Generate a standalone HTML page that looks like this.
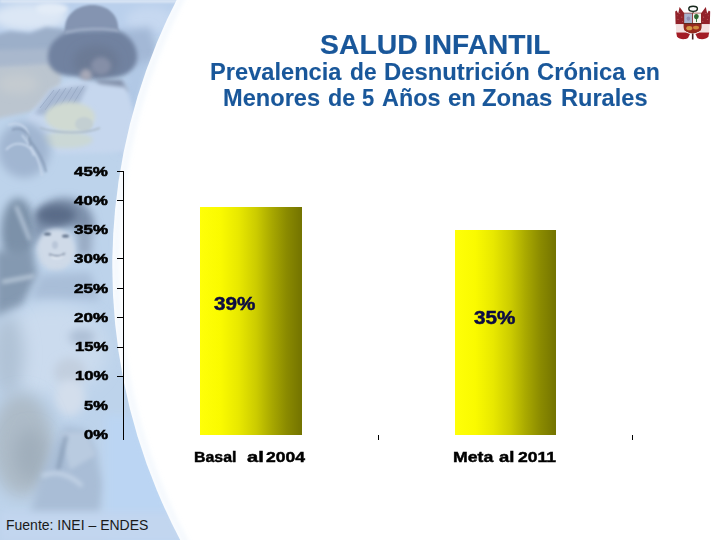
<!DOCTYPE html>
<html>
<head>
<meta charset="utf-8">
<title>Salud Infantil</title>
<style>
html,body{margin:0;padding:0;}
body{width:720px;height:540px;overflow:hidden;background:#fff;font-family:"Liberation Sans",sans-serif;position:relative;}
#bg{position:absolute;left:0;top:0;width:720px;height:540px;}
.t{position:absolute;z-index:2;white-space:nowrap;line-height:1;}

.ax{color:#000;font-weight:bold;font-size:14px;transform-origin:100% 50%;transform:scaleX(1.18);text-align:right;right:612.5px;}
.cat{color:#000;font-weight:bold;font-size:16px;transform-origin:50% 50%;}
.dl{color:#000060;font-weight:bold;font-size:18px;transform-origin:0 50%;}
.bar{position:absolute;background:linear-gradient(90deg,#ffff08 0%,#fafa00 20%,#e8e800 38%,#cccc00 55%,#a9a900 70%,#8a8a00 85%,#737300 100%);}
.w{font-weight:bold;color:#000;transform-origin:0 0;}
.title{color:#19579a;}
.ln{position:absolute;background:#000;}
</style>
</head>
<body>
<svg id="bg" width="720" height="540" viewBox="0 0 720 540">
  <defs>
    <filter id="b8" filterUnits="userSpaceOnUse" x="-60" y="-60" width="340" height="660"><feGaussianBlur stdDeviation="8"/></filter>
    <filter id="b4" filterUnits="userSpaceOnUse" x="-60" y="-60" width="340" height="660"><feGaussianBlur stdDeviation="4"/></filter>
    <filter id="b07" filterUnits="userSpaceOnUse" x="-60" y="-400" width="1500" height="1400"><feGaussianBlur stdDeviation="0.7"/></filter>
    <filter id="b2w" filterUnits="userSpaceOnUse" x="-60" y="-400" width="1500" height="1400"><feGaussianBlur stdDeviation="2"/></filter>
    <filter id="b1" filterUnits="userSpaceOnUse" x="-60" y="-60" width="340" height="660"><feGaussianBlur stdDeviation="1"/></filter>
    <filter id="b2" filterUnits="userSpaceOnUse" x="-60" y="-60" width="340" height="660"><feGaussianBlur stdDeviation="2"/></filter>
    <clipPath id="cp"><rect x="0" y="0" width="200" height="540"/></clipPath>
  </defs>
  <g clip-path="url(#cp)">
    <rect x="0" y="0" width="200" height="540" fill="#bdd3eb"/>
    <g id="photo">
      <!-- sky / clouds -->
      <rect x="0" y="0" width="200" height="36" fill="#bad0ec"/>
      <ellipse cx="30" cy="17" rx="38" ry="14" fill="#dce7f5" filter="url(#b4)"/>
      <ellipse cx="52" cy="9" rx="16" ry="6" fill="#e3ecf7" filter="url(#b2)"/>
      <ellipse cx="150" cy="20" rx="24" ry="13" fill="#c6d8f0" filter="url(#b4)"/>
      <rect x="0" y="0" width="200" height="2.5" fill="#e0eaf6" filter="url(#b1)"/>
      <!-- mountain -->
      <path d="M-10 36 L10 31 L30 33 L46 27 L70 30 L70 65 L-10 68 Z" fill="#9cafc9" filter="url(#b2)"/>
      <path d="M-10 50 L70 48 L70 66 L-10 69 Z" fill="#a9b8cd" filter="url(#b2)"/>
      <path d="M116 32 L150 27 L160 58 L132 76 Z" fill="#a3b8d6" filter="url(#b4)"/>
      <!-- field -->
      <path d="M-10 67 L62 63 L60 96 L30 112 L-10 120 Z" fill="#bbc5cf" filter="url(#b2)"/>
      <ellipse cx="18" cy="84" rx="20" ry="10" fill="#c4cbd0" filter="url(#b4)"/>
      <!-- right of child -->
      <path d="M126 72 L150 58 L138 118 L128 152 L118 152 Z" fill="#b1c8e5" filter="url(#b4)"/>
      <!-- hat -->
      <path d="M65 33 C63 14 78 5 92 5 C107 5 120 14 118 33 Z" fill="#8494b1" filter="url(#b1)"/>
      <path d="M48 58 C47 43 60 34 72 31 L116 30 C128 33 138 45 137 58 C136 70 124 78 112 77 L70 76 C56 75 48 68 48 58 Z" fill="#7182a0" filter="url(#b2)"/>
      <path d="M65 30.5 C80 27 105 26 118.500 29 L118.500 32.5 C105 29.500 80 30.5 65 34 Z" fill="#98a7c1" filter="url(#b1)"/>
      <ellipse cx="96" cy="62" rx="23" ry="17" fill="#6c7a95" filter="url(#b4)"/>
      <ellipse cx="101" cy="66" rx="10" ry="9" fill="#858fa7" filter="url(#b2)"/>
      <ellipse cx="86" cy="75" rx="6" ry="6" fill="#a6a8b7" filter="url(#b2)"/>
      <path d="M96 80 L122 80 L128 92 L100 90 Z" fill="#7f8ca6" filter="url(#b2)"/>
      <!-- clothes -->
      <path d="M26 120 L50 90 L70 80 L126 87 L136 118 L130 152 L58 154 Z" fill="#c6d7ee" filter="url(#b2)"/>
      <path d="M34 114 L52 90 L88 85 L72 118 Z" fill="#a8b9d3" filter="url(#b2)"/>
      <g stroke="#8e9fbb" stroke-width="0.8" opacity="0.7">
        <path d="M40 108 L54 90"/><path d="M45 110 L60 89"/><path d="M50 112 L66 88"/><path d="M55 114 L72 87"/><path d="M60 116 L78 86.500"/><path d="M65 117 L84 86"/>
      </g>
      <ellipse cx="70" cy="117" rx="25" ry="15" fill="#d0dad2" filter="url(#b2)"/>
      <ellipse cx="84" cy="124" rx="9" ry="7" fill="#c3cfd2" filter="url(#b1)"/>
      <ellipse cx="66" cy="140" rx="27" ry="8" fill="#cbd8d6" filter="url(#b2)"/>
      <path d="M40 128 C60 134 85 134 100 128" stroke="#a9b8c4" stroke-width="1.5" fill="none" filter="url(#b1)"/>
      <!-- bicycle -->
      <ellipse cx="24" cy="150" rx="26" ry="28" fill="#a1b6d1" filter="url(#b4)"/>
      <g stroke="#c9d8ec" stroke-width="2" fill="none" filter="url(#b1)" opacity="0.9">
        <path d="M8 125 C20 120 30 128 28 140"/><path d="M22 135 C34 150 40 160 42 176"/><path d="M6 150 C14 140 30 142 34 156"/>
      </g>
      <g stroke="#8498b4" stroke-width="2" fill="none" filter="url(#b1)" opacity="0.8">
        <path d="M12 130 C22 126 32 134 30 146"/><path d="M28 138 C38 150 44 160 46 172"/>
      </g>
      <!-- second child -->
      <ellipse cx="18" cy="232" rx="17" ry="34" fill="#7b91a9" filter="url(#b4)"/>
      <path d="M16 206 L30 240" stroke="#c2d2e4" stroke-width="3" filter="url(#b2)"/>
      <path d="M76 226 L93 224 L91 256 L78 256 Z" fill="#98aac3" filter="url(#b4)"/>
      <path d="M33 228 C33 208 50 198 64 198 C82 198 95 210 94 228 L76 230 L72 226 L44 232 L36 248 Z" fill="#7d90ab" filter="url(#b4)"/>
      <ellipse cx="56" cy="215" rx="20" ry="10" fill="#5a6c88" filter="url(#b4)"/>
      <ellipse cx="56" cy="250" rx="19" ry="21" fill="#cfdae8" filter="url(#b2)"/>
      <ellipse cx="47.500" cy="234" rx="3.5" ry="1.6" fill="#5f6f88" filter="url(#b1)"/><ellipse cx="65.500" cy="236" rx="3.5" ry="1.6" fill="#5f6f88" filter="url(#b1)"/><ellipse cx="55" cy="245" rx="3" ry="4" fill="#b9c6d8" filter="url(#b1)"/>
      <path d="M49 254 C54 257 61 257 65 253" stroke="#8794a9" stroke-width="1.6" fill="none" filter="url(#b1)"/><path d="M51 256.500 C55 259 60 259 63 256" stroke="#e6edf5" stroke-width="1.6" fill="none" filter="url(#b1)"/>
      <path d="M-5 250 L32 252 L38 275 L22 306 L-5 318 Z" fill="#8499b1" filter="url(#b4)"/>
      <path d="M2 282 L34 276" stroke="#c5d3e2" stroke-width="3" filter="url(#b2)"/>
      <path d="M30 300 L40 275 L90 272 L100 300 Z" fill="#a9bed8" filter="url(#b4)"/>
      <ellipse cx="52" cy="350" rx="55" ry="45" fill="#cbdbee" filter="url(#b8)"/>
      <!-- left -->
      <ellipse cx="8" cy="355" rx="16" ry="40" fill="#b0c2d6" filter="url(#b8)"/>
      <!-- third child -->
      <ellipse cx="82" cy="337" rx="13" ry="8" fill="#adbfd6" filter="url(#b4)"/>
      <ellipse cx="70" cy="372" rx="16" ry="14" fill="#c2cfdf" filter="url(#b4)"/>
      <ellipse cx="70" cy="398" rx="15" ry="18" fill="#d3deec" filter="url(#b4)"/>
      <ellipse cx="22" cy="445" rx="32" ry="52" fill="#adbbc8" filter="url(#b8)"/>
      <ellipse cx="30" cy="455" rx="16" ry="26" fill="#a0afbc" filter="url(#b8)"/>
      <path d="M30 515 L38 484 L52 450 L64 426 L86 430 L96 452 L104 484 L100 515 Z" fill="#a9bdd6" filter="url(#b4)"/>
      <path d="M60 432 L86 432 L96 455 L70 470 Z" fill="#b9cbe0" filter="url(#b2)"/>
      <path d="M66 436 L58 470" stroke="#879cb6" stroke-width="3.5" filter="url(#b2)"/>
      <path d="M42 476 C55 470 70 474 82 486" stroke="#c3d3e6" stroke-width="4" fill="none" filter="url(#b2)"/>
      <path d="M105 415 L135 415 L185 545 L105 545 Z" fill="#bbd5f3" filter="url(#b4)"/>
      <rect x="0" y="512" width="200" height="30" fill="#c2d6ef" filter="url(#b4)"/>
    </g>
    <circle cx="697" cy="266.5" r="584.7" fill="#ffffff" filter="url(#b07)"/>
    <circle cx="697" cy="266.5" r="581" fill="none" stroke="#cfe2f7" stroke-opacity="0.2" stroke-width="7" filter="url(#b2w)"/>
  </g>
</svg>

<!-- titles -->

<!-- axis -->
<div class="ln" style="left:123px;top:170.5px;width:1px;height:269.3px;"></div>
<div class="ln" style="left:117px;top:170.5px;width:6.5px;height:1px;"></div>
<div class="ln" style="left:117px;top:200px;width:6.5px;height:1px;"></div>
<div class="ln" style="left:117px;top:257.7px;width:6.5px;height:1px;"></div>
<div class="ln" style="left:117px;top:287.6px;width:6.5px;height:1px;"></div>
<div class="ln" style="left:117px;top:316.9px;width:6.5px;height:1px;"></div>
<div class="ln" style="left:117px;top:346.5px;width:6.5px;height:1px;"></div>
<div class="ln" style="left:117px;top:375.5px;width:6.5px;height:1px;"></div>
<div class="ln" style="left:378px;top:435px;width:1px;height:5px;"></div>
<div class="ln" style="left:632px;top:435px;width:1px;height:5px;"></div>


<!-- labels -->
<!--GEN-->
<div class="t w" style="left:74.14px;top:164.50px;font-size:13.48px;transform:scaleX(1.254);-webkit-text-stroke:0.55px currentColor;">45%</div>
<div class="t w" style="left:74.14px;top:193.88px;font-size:13.38px;transform:scaleX(1.263);-webkit-text-stroke:0.55px currentColor;">40%</div>
<div class="t w" style="left:73.97px;top:222.88px;font-size:13.38px;transform:scaleX(1.269);-webkit-text-stroke:0.55px currentColor;">35%</div>
<div class="t w" style="left:73.97px;top:252.28px;font-size:13.38px;transform:scaleX(1.269);-webkit-text-stroke:0.55px currentColor;">30%</div>
<div class="t w" style="left:73.80px;top:281.88px;font-size:13.38px;transform:scaleX(1.275);-webkit-text-stroke:0.55px currentColor;">25%</div>
<div class="t w" style="left:73.80px;top:311.28px;font-size:13.38px;transform:scaleX(1.275);-webkit-text-stroke:0.55px currentColor;">20%</div>
<div class="t w" style="left:74.50px;top:339.90px;font-size:13.48px;transform:scaleX(1.241);-webkit-text-stroke:0.55px currentColor;">15%</div>
<div class="t w" style="left:74.50px;top:369.38px;font-size:13.38px;transform:scaleX(1.249);-webkit-text-stroke:0.55px currentColor;">10%</div>
<div class="t w" style="left:84.08px;top:399.10px;font-size:13.48px;transform:scaleX(1.225);-webkit-text-stroke:0.55px currentColor;">5%</div>
<div class="t w" style="left:83.92px;top:428.28px;font-size:13.38px;transform:scaleX(1.242);-webkit-text-stroke:0.55px currentColor;">0%</div>
<div class="t w" style="left:213.94px;top:295.18px;font-size:18.45px;transform:scaleX(1.120);-webkit-text-stroke:0.5px currentColor;color:#0b0b42;">39%</div>
<div class="t w" style="left:473.94px;top:308.98px;font-size:18.45px;transform:scaleX(1.120);-webkit-text-stroke:0.5px currentColor;color:#0b0b42;">35%</div>
<div class="t w" style="left:193.65px;top:449.64px;font-size:14.70px;transform:scaleX(1.082);-webkit-text-stroke:0.45px currentColor;">Basal</div>
<div class="t w" style="left:246.61px;top:449.64px;font-size:14.70px;transform:scaleX(1.367);-webkit-text-stroke:0.45px currentColor;">al</div>
<div class="t w" style="left:266.32px;top:449.64px;font-size:14.70px;transform:scaleX(1.193);-webkit-text-stroke:0.45px currentColor;">2004</div>
<div class="t w" style="left:452.79px;top:449.64px;font-size:14.70px;transform:scaleX(1.202);-webkit-text-stroke:0.45px currentColor;">Meta</div>
<div class="t w" style="left:498.91px;top:449.64px;font-size:14.70px;transform:scaleX(1.255);-webkit-text-stroke:0.45px currentColor;">al</div>
<div class="t w" style="left:518.22px;top:449.64px;font-size:14.70px;transform:scaleX(1.191);-webkit-text-stroke:0.45px currentColor;">2011</div>
<div class="t w title" style="left:209.86px;top:60.54px;font-size:23.20px;transform:scaleX(1.020);-webkit-text-stroke:0.1px currentColor;">Prevalencia</div>
<div class="t w title" style="left:350.09px;top:60.54px;font-size:23.20px;transform:scaleX(0.981);-webkit-text-stroke:0.1px currentColor;">de</div>
<div class="t w title" style="left:384.35px;top:60.54px;font-size:23.20px;transform:scaleX(1.028);-webkit-text-stroke:0.1px currentColor;">Desnutrición</div>
<div class="t w title" style="left:537.15px;top:60.54px;font-size:23.20px;transform:scaleX(1.024);-webkit-text-stroke:0.1px currentColor;">Crónica</div>
<div class="t w title" style="left:633.28px;top:60.54px;font-size:23.20px;transform:scaleX(0.996);-webkit-text-stroke:0.1px currentColor;">en</div>
<div class="t w title" style="left:222.67px;top:86.84px;font-size:23.20px;transform:scaleX(1.018);-webkit-text-stroke:0.1px currentColor;">Menores</div>
<div class="t w title" style="left:327.67px;top:86.84px;font-size:23.20px;transform:scaleX(1.004);-webkit-text-stroke:0.1px currentColor;">de</div>
<div class="t w title" style="left:361.93px;top:86.84px;font-size:23.20px;transform:scaleX(0.949);-webkit-text-stroke:0.1px currentColor;">5</div>
<div class="t w title" style="left:381.92px;top:86.84px;font-size:23.20px;transform:scaleX(1.009);-webkit-text-stroke:0.1px currentColor;">Años</div>
<div class="t w title" style="left:448.25px;top:86.84px;font-size:23.20px;transform:scaleX(1.032);-webkit-text-stroke:0.1px currentColor;">en</div>
<div class="t w title" style="left:482.39px;top:86.84px;font-size:23.20px;transform:scaleX(1.031);-webkit-text-stroke:0.1px currentColor;">Zonas</div>
<div class="t w title" style="left:561.37px;top:86.84px;font-size:23.20px;transform:scaleX(1.017);-webkit-text-stroke:0.1px currentColor;">Rurales</div>
<div class="t w title" style="left:319.80px;top:29.80px;font-size:28.20px;transform:scaleX(1.007);-webkit-text-stroke:0.15px currentColor;">SALUD</div>
<div class="t w title" style="left:423.82px;top:29.80px;font-size:28.20px;transform:scaleX(0.997);-webkit-text-stroke:0.15px currentColor;">INFANTIL</div>
<!--/GEN-->
<!-- bars -->
<div class="bar" style="left:200px;top:207px;width:102px;height:227.5px;"></div>
<div class="bar" style="left:455px;top:230px;width:101px;height:204.5px;"></div>



<div class="t" id="src" style="left:6px;top:518px;font-size:14px;color:#1a1a1a;">Fuente: INEI – ENDES</div>

<!-- emblem -->
<svg id="emb" style="position:absolute;left:670px;top:0px;" width="50" height="45" viewBox="670 0 50 45">
  <defs><filter id="eb" x="-10%" y="-10%" width="120%" height="120%"><feGaussianBlur stdDeviation="0.45"/></filter></defs>
  <g filter="url(#eb)">
    <!-- left flags -->
    <path d="M675.2 11.5 L676.6 10.6 L678.2 13.5 L679.6 7 L685.2 14.5 L685.2 24.2 L675.6 24.2 Z" fill="#92222a"/>
    <path d="M675.8 24.2 H685.2 V32.6 H676.2 Z" fill="#f3e1e1"/>
    <path d="M676.2 32.4 H686 L690 34 L688 38 C685 40 679 39.500 677 36.500 Z" fill="#a31f26"/>
    <!-- right flags -->
    <path d="M710.2 11.5 L708.8 10.6 L707.2 13.5 L705.8 7 L700.2 14.5 L700.2 24.2 L709.8 24.2 Z" fill="#92222a"/>
    <path d="M709.6 24.2 H700.2 V32.6 H709.2 Z" fill="#f3e1e1"/>
    <path d="M709.2 32.4 H699.4 L695.4 34 L697.4 38 C700.4 40 706.4 39.500 708.4 36.500 Z" fill="#a31f26"/>
    <g fill="#d98a8a" opacity="0.55">
      <circle cx="679.6" cy="13.5" r="0.6"/><circle cx="681.8" cy="17.2" r="0.6"/><circle cx="678" cy="19.500" r="0.55"/><circle cx="682.6" cy="21.500" r="0.5"/><circle cx="677.2" cy="15.8" r="0.45"/>
      <circle cx="705.8" cy="13.5" r="0.6"/><circle cx="703.6" cy="17.2" r="0.6"/><circle cx="707.4" cy="19.500" r="0.55"/><circle cx="702.8" cy="21.500" r="0.5"/><circle cx="708.2" cy="15.8" r="0.45"/>
    </g>
    <!-- stem -->
    <rect x="691.9" y="33.5" width="1.6" height="6" fill="#4a2020"/>
    <!-- shield -->
    <path d="M683.6 12.8 H701.6 V27 C701.6 31 697 33 692.6 33.6 C688 33 683.6 31 683.6 27 Z" fill="#8a2a24"/>
    <rect x="684.2" y="13.4" width="8" height="9.6" fill="#aab4cf"/>
    <rect x="693" y="13.4" width="8" height="9.6" fill="#f4f4ee"/>
    <ellipse cx="696.4" cy="16.6" rx="2.3" ry="2.6" fill="#2d6a32"/>
    <rect x="696" y="18.5" width="0.9" height="3.6" fill="#2d6a32"/>
    <ellipse cx="688.4" cy="18.6" rx="1.8" ry="2.2" fill="#8e8fb4"/>
    <rect x="683.6" y="23" width="18" height="0.9" fill="#5a2a1c"/>
    <path d="M684.2 24.4 H701 V29.500 C700.6 31.500 697 32.4 692.6 32.800 C688.2 32.4 684.6 31.500 684.2 29.500 Z" fill="#982b1d"/>
    <ellipse cx="689.3" cy="28.2" rx="3" ry="2.1" fill="#d39a48"/>
    <ellipse cx="696" cy="27.6" rx="3" ry="1.9" fill="#cf8a3c"/>
    <!-- wreath -->
    <ellipse cx="693.1" cy="8.800" rx="4.3" ry="2.6" fill="#fbfbfb" stroke="#14261a" stroke-width="1.4"/>
    <rect x="692.6" y="11" width="1" height="2" fill="#1f3a24"/>
  </g>
</svg>
</body>
</html>
